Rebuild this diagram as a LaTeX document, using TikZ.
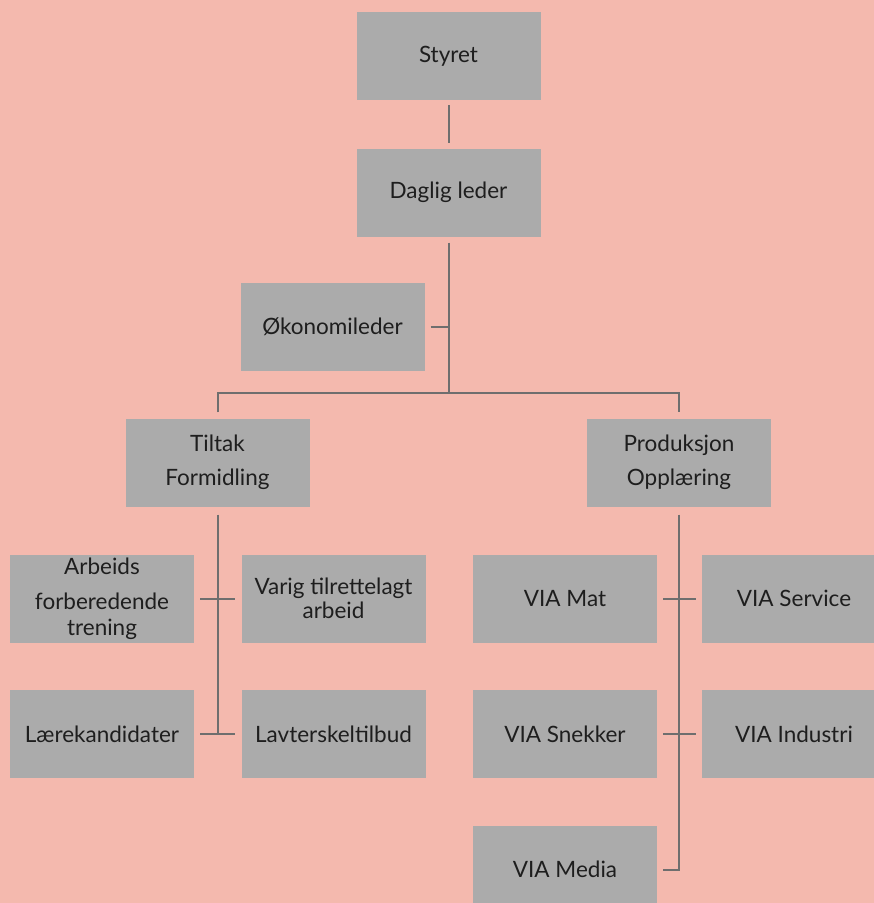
\documentclass[tikz,border=0pt]{standalone}
\usepackage{fontspec}
\setmainfont{Lato}
\usetikzlibrary{positioning}
\definecolor{bgpink}{HTML}{F4B9AE}
\definecolor{boxgray}{HTML}{ABABAB}
\definecolor{linegray}{HTML}{6E6E6E}
\definecolor{textgray}{HTML}{1E1E1E}

\begin{document}
\begin{tikzpicture}
         [x=1pt,y=-1pt,node distance=135.5pt,on grid,
          unit/.style={fill=boxgray,minimum width=184pt,minimum height=88pt,
                       inner sep=0pt,align=center,text=textgray,
                       font=\fontsize{22.5pt}{27pt}\selectfont},
          link/.style={draw=linegray,line width=2pt}]
         \fill[bgpink] (0,0) rectangle (874,903);
         \useasboundingbox (0,0) rectangle (874,903);
         \clip (0,0) rectangle (874,903);

         \node[unit] (styret) at (448.5,56) {Styret};
         \node[unit] (daglig) [below=136.5pt of styret] {Daglig leder};
         \node[unit] (okonomi) [below left=134.5pt and 116pt of daglig] {Økonomileder};
         \node[unit] (tiltak) [below left=270pt and 231pt of daglig] {Tiltak\\[7pt]Formidling};
         \node[unit] (prod) [below right=270pt and 230.5pt of daglig] {Produksjon\\[7pt]Opplæring};

         \node[unit] (arbeids) [below left=136pt and 115.5pt of tiltak] {Arbeids\\[8pt]forberedende\\[-1pt]trening};
         \node[unit] (varig) [below right=136pt and 116pt of tiltak] {Varig tilrettelagt\\[-3pt]arbeid};
         \node[unit] (laere) [below=of arbeids] {Lærekandidater};
         \node[unit] (lavterskel) [below=of varig] {Lavterskeltilbud};

         \node[unit] (viamat) [below left=136pt and 114pt of prod] {VIA Mat};
         \node[unit] (viaservice) [below right=136pt and 115pt of prod] {VIA Service};
         \node[unit] (snekker) [below=of viamat] {VIA Snekker};
         \node[unit] (industri) [below=of viaservice] {VIA Industri};
         \node[unit] (media) [below=of snekker] {VIA Media};

         \coordinate (hub) at ([yshift=25pt]tiltak.north -| daglig);

         \draw[link,shorten <=5pt,shorten >=5pt] (styret) -- (daglig);
         \draw[link] ([yshift=-6pt]daglig.south) -- (hub);
         \draw[link] ([xshift=6pt]okonomi.east) -- (okonomi.east -| hub);
         \draw[link] ([yshift=6pt]tiltak.north) |- (hub) -| ([yshift=6pt]prod.north);

         \draw[link] ([yshift=-8pt]tiltak.south) -- (tiltak |- laere);
         \draw[link] ([xshift=6pt]arbeids.east) -- ([xshift=-6pt]varig.west);
         \draw[link] ([xshift=6pt]laere.east) -- ([xshift=-6pt]lavterskel.west);

         \draw[link] ([yshift=-8pt]prod.south) -- (prod |- media) -- ([xshift=6pt]media.east);
         \draw[link] ([xshift=6pt]viamat.east) -- ([xshift=-6pt]viaservice.west);
         \draw[link] ([xshift=6pt]snekker.east) -- ([xshift=-6pt]industri.west);
      \end{tikzpicture}
\end{document}
